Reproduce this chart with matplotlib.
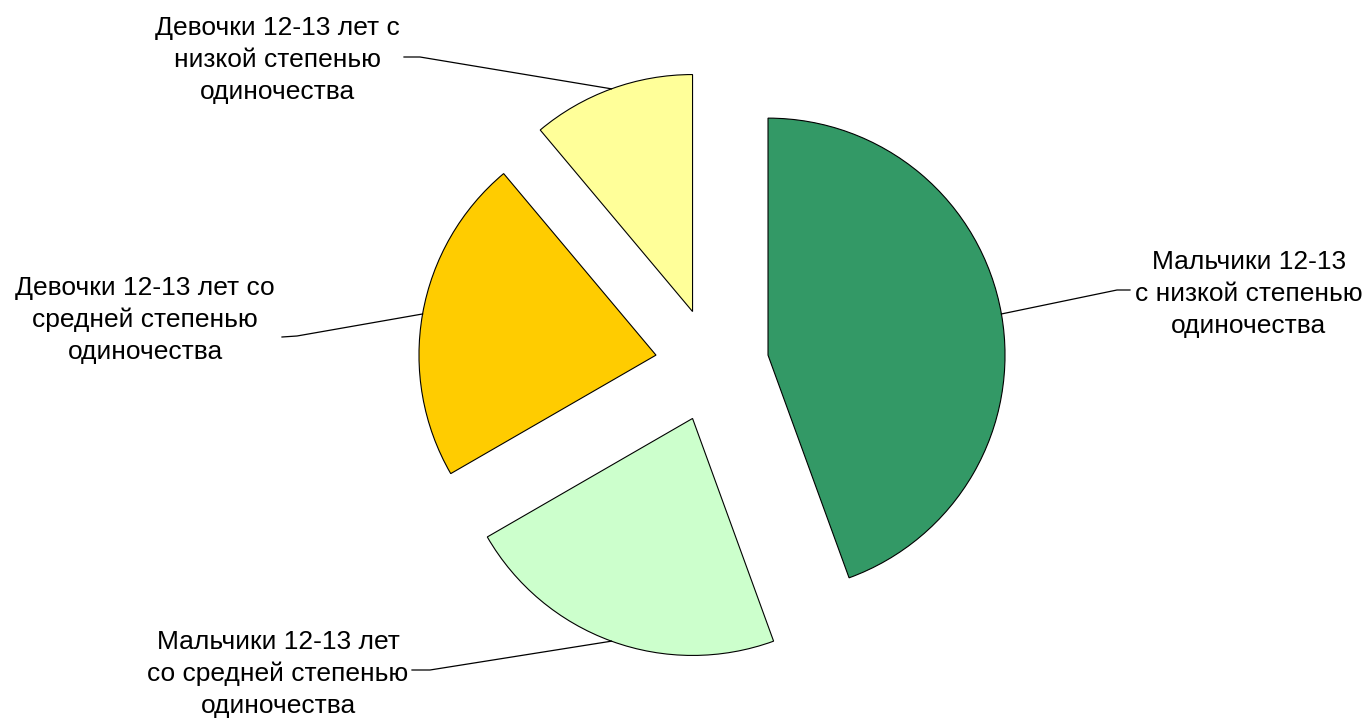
import numpy as np
import matplotlib.pyplot as plt

plt.rcParams['font.family'] = ['Liberation Sans', 'DejaVu Sans']

# chart data
labels = [
    "Мальчики 12-13\nс низкой степенью\nодиночества",
    "Мальчики 12-13 лет\nсо средней степенью\nодиночества",
    "Девочки 12-13 лет со\nсредней степенью\nодиночества",
    "Девочки 12-13 лет с\nнизкой степенью\nодиночества",
]
values = [8, 4, 4, 2]
colors = ["#339966", "#CCFFCC", "#FFCC00", "#FFFF99"]

W, H = 1370, 721
CX, CY, R = 712, 365, 237  # pie centre and radius in pixels


def px(x, y):
    # pixel position -> data units (radius = 1)
    return (x - CX) / R, (CY - y) / R


# label text centres and leader elbows (pixels)
label_pos = [(1249, 294), (278, 674), (145, 320), (277, 60)]
elbows = [[(1117, 290), (1130, 290)],
          [(430, 670), (412, 670)],
          [(297, 336), (282, 337)],
          [(420, 57), (404, 57)]]

fig = plt.figure(figsize=(W / 100, H / 100), dpi=100)
ax = fig.add_axes([0, 0, 1, 1])

explode = [0.24] * len(values)
wedges, _ = ax.pie(values, colors=colors, explode=explode, startangle=90,
                   counterclock=False, radius=1,
                   wedgeprops=dict(edgecolor='black', linewidth=0.8))

for w, lab, pos, elb in zip(wedges, labels, label_pos, elbows):
    mid = np.deg2rad((w.theta1 + w.theta2) / 2)
    cx, cy = w.center
    sx, sy = cx + np.cos(mid) * w.r, cy + np.sin(mid) * w.r
    pts = [(sx, sy)] + [px(*p) for p in elb]
    ax.plot([p[0] for p in pts], [p[1] for p in pts], color='black', lw=0.9)
    tx, ty = px(*pos)
    ax.text(tx, ty, lab, ha='center', va='center', multialignment='center',
            fontsize=19, linespacing=1.42, color='black')

ax.set_xlim(-CX / R, (W - CX) / R)
ax.set_ylim(-(H - CY) / R, CY / R)
ax.set_aspect('equal')
ax.axis('off')

fig.savefig('out.png', dpi=100)
